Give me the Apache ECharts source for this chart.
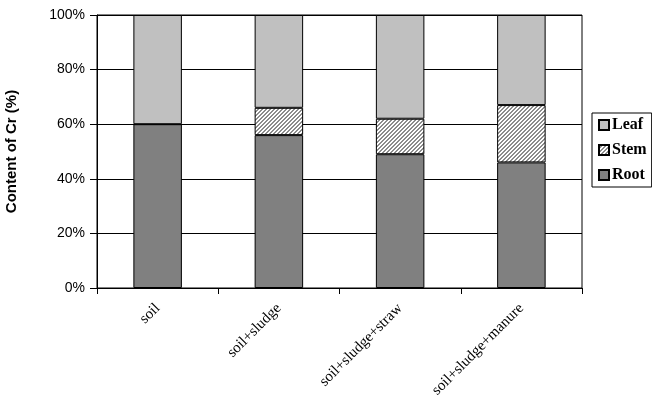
<!DOCTYPE html>
<html><head><meta charset="utf-8">
<script src="https://cdn.jsdelivr.net/npm/echarts@6/dist/echarts.min.js"></script>
<style>html,body{margin:0;padding:0;background:#fff}#c{width:652px;height:401px}</style>
</head><body><div id="c"></div>
<script>
var categories = ['soil', 'soil+sludge', 'soil+sludge+straw', 'soil+sludge+manure'];
var rootValues = [60, 56, 49, 46];
var stemValues = [null, 10, 13, 21];
var leafValues = [40, 34, 38, 33];
var yTicks = [0, 20, 40, 60, 80, 100];

var tile = document.createElement('canvas');
tile.width = 4; tile.height = 4;
var tctx = tile.getContext('2d');
tctx.fillStyle = '#ffffff'; tctx.fillRect(0, 0, 4, 4);
tctx.fillStyle = '#8c8c8c';
for (var x = 0; x < 4; x++) for (var y = 0; y < 4; y++) {
  var m = (x + y) % 4;
  if (m === 2 || m === 3) tctx.fillRect(x, y, 1, 1);
}
var hatch = { image: tile, repeat: 'repeat' };

var chart = echarts.init(document.getElementById('c'), null, { renderer: 'canvas' });
var border = { borderColor: '#000', borderWidth: 1 };
chart.setOption({
  animation: false,
  backgroundColor: '#fff',
  grid: { left: 97, right: 70, top: 15, bottom: 113, outerBoundsMode: 'none', containLabel: false, show: true, borderColor: '#000', borderWidth: 1, backgroundColor: 'transparent' },
  legend: {
    data: ['Leaf', 'Stem', 'Root'],
    orient: 'vertical', left: 592, top: 113,
    backgroundColor: '#fff', borderColor: '#000', borderWidth: 1,
    padding: [4, 5, 4, 6], itemWidth: 10, itemHeight: 10, itemGap: 9,
    icon: 'rect',
    textStyle: { fontFamily: 'Liberation Serif', fontWeight: 'bold', fontSize: 16, color: '#000', lineHeight: 16, padding: [0, 0, 0, -2] }
  },
  xAxis: {
    type: 'category', data: categories,
    axisLine: { lineStyle: { color: '#000', width: 1 } },
    axisTick: { show: true, length: 6, lineStyle: { color: '#000' } },
    axisLabel: { rotate: 45, margin: 18, color: '#000', fontFamily: 'Liberation Serif', fontSize: 15 }
  },
  yAxis: {
    type: 'value', min: yTicks[0], max: yTicks[yTicks.length - 1], interval: 20,
    name: 'Content of Cr (%)', nameLocation: 'middle', nameGap: 78,
    nameTextStyle: { fontFamily: 'Liberation Sans', fontWeight: 'bold', fontSize: 15, color: '#000' },
    axisLine: { show: true, lineStyle: { color: '#000', width: 1 } },
    axisTick: { show: true, length: 7, lineStyle: { color: '#000' } },
    axisLabel: { formatter: '{value}%', margin: 12, color: '#000', fontFamily: 'Liberation Sans', fontSize: 14 },
    splitLine: { show: true, lineStyle: { color: '#000', width: 1 } }
  },
  series: [
    { name: 'Root', type: 'bar', stack: 't', barWidth: '40%', data: rootValues, itemStyle: Object.assign({ color: '#808080' }, border) },
    { name: 'Stem', type: 'bar', stack: 't', barWidth: '40%', data: stemValues, itemStyle: Object.assign({ color: hatch }, border) },
    { name: 'Leaf', type: 'bar', stack: 't', barWidth: '40%', data: leafValues, itemStyle: Object.assign({ color: '#c0c0c0' }, border) }
  ]
});
</script></body></html>
